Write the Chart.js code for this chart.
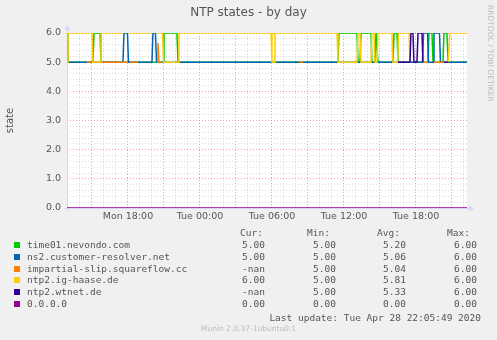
<!DOCTYPE html>
<html>
<head>
<meta charset="utf-8">
<script src="https://cdn.jsdelivr.net/npm/chart.js@4.4.1/dist/chart.umd.min.js"></script>
<style>
  html, body { margin: 0; padding: 0; background: #f0f0f0; }
  #wrap { position: relative; width: 497px; height: 340px; overflow: hidden; font-family: "DejaVu Sans", sans-serif; }
  canvas { position: absolute; left: 0; top: 0; }
  .t { position: absolute; white-space: pre; line-height: 12px; height: 12px; }
  .mono { font-family: "DejaVu Sans Mono", monospace; font-size: 9.5px; color: #555; }
  .sq { position: absolute; width: 6px; height: 6px; }
</style>
</head>
<body>
<div id="wrap">
  <canvas id="c" width="497" height="340"></canvas>
  <div class="t" style="left:0;width:497px;top:6px;text-align:center;font-size:12px;color:#555;">NTP states - by day</div>
  <div class="t" style="left:484px;top:5px;writing-mode:vertical-rl;font-size:7.5px;color:#bbb;height:auto;">RRDTOOL / TOBI OETIKER</div>
  <div id="legend"></div>
  <div class="t" style="left:0;width:497px;top:323px;text-align:center;font-size:7.5px;color:#bbb;">Munin 2.0.37-1ubuntu0.1</div>
</div>
<script>
// hours since Mon 00:00
const xStart = 12.92;
const xEnd = 46.25;
const xTickHours = [18, 24, 30, 36, 42];
const xTickText = ['Mon 18:00', 'Tue 00:00', 'Tue 06:00', 'Tue 12:00', 'Tue 18:00'];

const names = ['time01.nevondo.com', 'ns2.customer-resolver.net', 'impartial-slip.squareflow.cc',
               'ntp2.ig-haase.de', 'ntp2.wtnet.de', '0.0.0.0'];
const colors = ['#00cc00', '#0066b3', '#ff8000', '#ffcc00', '#330099', '#990099'];
const curVals = ['5.00', '5.00', '-nan', '6.00', '-nan', '0.00'];
const minVals = ['5.00', '5.00', '5.00', '5.00', '5.00', '0.00'];
const avgVals = ['5.20', '5.06', '5.04', '5.81', '5.33', '0.00'];
const maxVals = ['6.00', '6.00', '6.00', '6.00', '6.00', '0.00'];

const greenT = [12.92, 13.0, 15.08, 15.17, 15.67, 15.75, 20.92, 21.0, 22.08, 22.17, 35.5, 35.58, 37.08, 37.17,
                37.33, 37.42, 38.25, 38.33, 38.58, 38.67, 38.75, 38.83, 40.08, 40.17, 40.42, 40.5, 43.0, 43.08,
                43.33, 43.42, 44.25, 44.33, 44.58, 44.67, 46.25];
const greenV = [6, 5, 5, 6, 6, 5, 5, 6, 6, 5, 5, 6, 6, 5, 5, 6, 6, 5, 5, 6, 6, 5, 5, 6, 6, 5, 5, 6, 6, 5, 5, 6, 6, 5, 5];

const blueT = [12.92, 17.58, 17.67, 17.96, 18.04, 20.0, 20.08, 20.29, 20.38, 42.54, 42.63, 42.96, 43.04,
               43.42, 43.5, 43.96, 44.04, 46.25];
const blueV = [5, 5, 6, 6, 5, 5, 6, 6, 5, 5, 6, 6, 5, 5, 6, 6, 5, 5];

const orangeT = [14.58, 18.0, 18.01, 18.17, 18.83, 18.84, 20.42, 20.5, 20.58, 20.83, 20.84, 29.96, 30.25, 30.26,
                 32.33, 32.58, 32.59, 42.58, 43.0, 43.01, 43.5, 44.67];
const orangeV = [5, 5, null, 5, 5, null, 5, 5.66, 5, 5, null, 6, 6, null, 5, 5, null, 5, 5, null, 5, 5];

const yellowT = [12.92, 13.0, 15.0, 15.08, 15.67, 15.75, 17.6, 17.61, 18.04, 20.04, 20.05, 20.42, 20.88, 20.96,
                 22.17, 22.25, 29.92, 30.0, 30.17, 30.25, 35.42, 35.5, 37.08, 37.17, 37.33, 37.42, 38.25, 38.33,
                 38.5, 38.58, 38.75, 38.83, 40.0, 40.08, 40.46, 40.54, 41.42, 41.5, 41.58, 41.59, 44.67, 44.83, 46.25];
const yellowV = [5, 6, 6, 5, 5, 6, 6, null, 6, 6, null, 6, 6, 5, 5, 6, 6, 5, 5, 6, 6, 5, 5, 6, 6, 5, 5, 6,
                 6, 5, 5, 6, 6, 5, 5, 6, 6, 5, 5, null, 5, 6, 6];

const purpleT = [40.5, 41.5, 41.58, 41.75, 41.83, 42.08, 42.17, 42.5, 42.58, 42.59, 44.33, 44.67];
const purpleV = [5, 5, 6, 6, 5, 5, 6, 6, 5, null, 5, 5];

const magentaT = [12.92, 46.25];
const magentaV = [0, 0];

const allT = [greenT, blueT, orangeT, yellowT, purpleT, magentaT];
const allV = [greenV, blueV, orangeV, yellowV, purpleV, magentaV];

const majorGrid = 'rgba(255, 60, 60, 0.5)';
const minorGrid = 'rgba(150, 150, 150, 0.35)';
const axisColor = '#cfd6f8';
const tickFont = { family: 'DejaVu Sans', size: 9.5 };

// background + arrows like rrdtool
const rrdLook = {
  id: 'rrdLook',
  beforeDraw(chart) {
    const { ctx, chartArea: a } = chart;
    ctx.save();
    ctx.fillStyle = '#f0f0f0';
    ctx.fillRect(0, 0, chart.width, chart.height);
    ctx.fillStyle = '#ffffff';
    ctx.fillRect(a.left, a.top, a.right - a.left, a.bottom - a.top);
    ctx.restore();
  },
  beforeDatasetsDraw(chart) {
    const { ctx, chartArea: a } = chart;
    const l = Math.round(a.left) + 0.5, b = Math.round(a.bottom) + 0.5;
    ctx.save();
    ctx.strokeStyle = axisColor;
    ctx.fillStyle = axisColor;
    ctx.lineWidth = 1;
    ctx.beginPath();
    ctx.moveTo(l, b + 3); ctx.lineTo(l, a.top - 4);
    ctx.moveTo(l - 3, b); ctx.lineTo(a.right + 4, b);
    ctx.stroke();
    ctx.beginPath();
    ctx.moveTo(l, a.top - 8); ctx.lineTo(l - 3, a.top - 3); ctx.lineTo(l + 3, a.top - 3); ctx.closePath();
    ctx.moveTo(a.right + 7, b); ctx.lineTo(a.right + 2, b - 3); ctx.lineTo(a.right + 2, b + 3); ctx.closePath();
    ctx.fill();
    ctx.restore();
  }
};

const isWhole = v => Math.abs(v - Math.round(v)) < 1e-6;

new Chart(document.getElementById('c'), {
  type: 'line',
  data: {
    datasets: names.map((n, i) => ({
      label: n,
      data: allT[i].map((t, j) => ({ x: t, y: allV[i][j] })),
      borderColor: colors[i],
      backgroundColor: colors[i],
      borderWidth: 1.5,
      pointRadius: 0,
      tension: 0,
      spanGaps: false,
      order: names.length - 1 - i
    }))
  },
  options: {
    responsive: false,
    animation: false,
    events: [],
    layout: { padding: { left: 0, right: 30, top: 33, bottom: 112 } },
    plugins: { legend: { display: false }, tooltip: { enabled: false } },
    scales: {
      x: {
        type: 'linear',
        min: xStart,
        max: xEnd,
        afterBuildTicks: s => {
          s.ticks = [];
          for (let h = 13; h <= 46; h++) s.ticks.push({ value: h });
        },
        afterFit: s => { s.height = 20; },
        grid: {
          color: c => (c.tick && c.tick.value % 3 === 0) ? majorGrid : minorGrid,
          drawTicks: false,
          lineWidth: 1
        },
        border: { display: false, dash: [1, 2] },
        ticks: {
          autoSkip: false,
          maxRotation: 0,
          padding: 3,
          color: '#555',
          font: tickFont,
          callback: v => {
            const k = xTickHours.indexOf(v);
            return k >= 0 ? xTickText[k] : '';
          }
        }
      },
      y: {
        type: 'linear',
        min: 0,
        max: 6,
        afterBuildTicks: s => {
          s.ticks = [];
          for (let k = 0; k <= 30; k++) s.ticks.push({ value: k / 5 });
        },
        afterFit: s => { s.width = 67; },
        grid: {
          color: c => (c.tick && isWhole(c.tick.value)) ? majorGrid : minorGrid,
          drawTicks: false,
          lineWidth: 1
        },
        border: { display: false, dash: [1, 2] },
        title: { display: true, text: 'state', color: '#555', font: { family: 'DejaVu Sans', size: 10 } },
        ticks: {
          autoSkip: false,
          padding: 6,
          color: '#555',
          font: tickFont,
          callback: v => isWhole(v) ? v.toFixed(1) : ''
        }
      }
    }
  },
  plugins: [rrdLook]
});

// legend below the graph, rrdtool style
const legend = document.getElementById('legend');
const colRight = [265, 336, 406, 477];
const headRight = [263, 330, 400, 470];
const heads = ['Cur:', 'Min:', 'Avg:', 'Max:'];
function addText(txt, y, right, left) {
  const d = document.createElement('div');
  d.className = 't mono';
  d.textContent = txt;
  d.style.top = (y - 6) + 'px';
  if (left !== undefined) d.style.left = left + 'px';
  else d.style.right = (497 - right) + 'px';
  legend.appendChild(d);
}
heads.forEach((h, k) => addText(h, 232.5, headRight[k]));
names.forEach((n, i) => {
  const y = 245 + i * 11.8;
  const sq = document.createElement('div');
  sq.className = 'sq';
  sq.style.left = '14px';
  sq.style.top = (y - 3) + 'px';
  sq.style.background = colors[i];
  legend.appendChild(sq);
  addText(n, y, 0, 27);
  [curVals[i], minVals[i], avgVals[i], maxVals[i]].forEach((v, k) => addText(v, y, colRight[k]));
});
addText('Last update: Tue Apr 28 22:05:49 2020', 317.5, 481);
</script>
</body>
</html>
